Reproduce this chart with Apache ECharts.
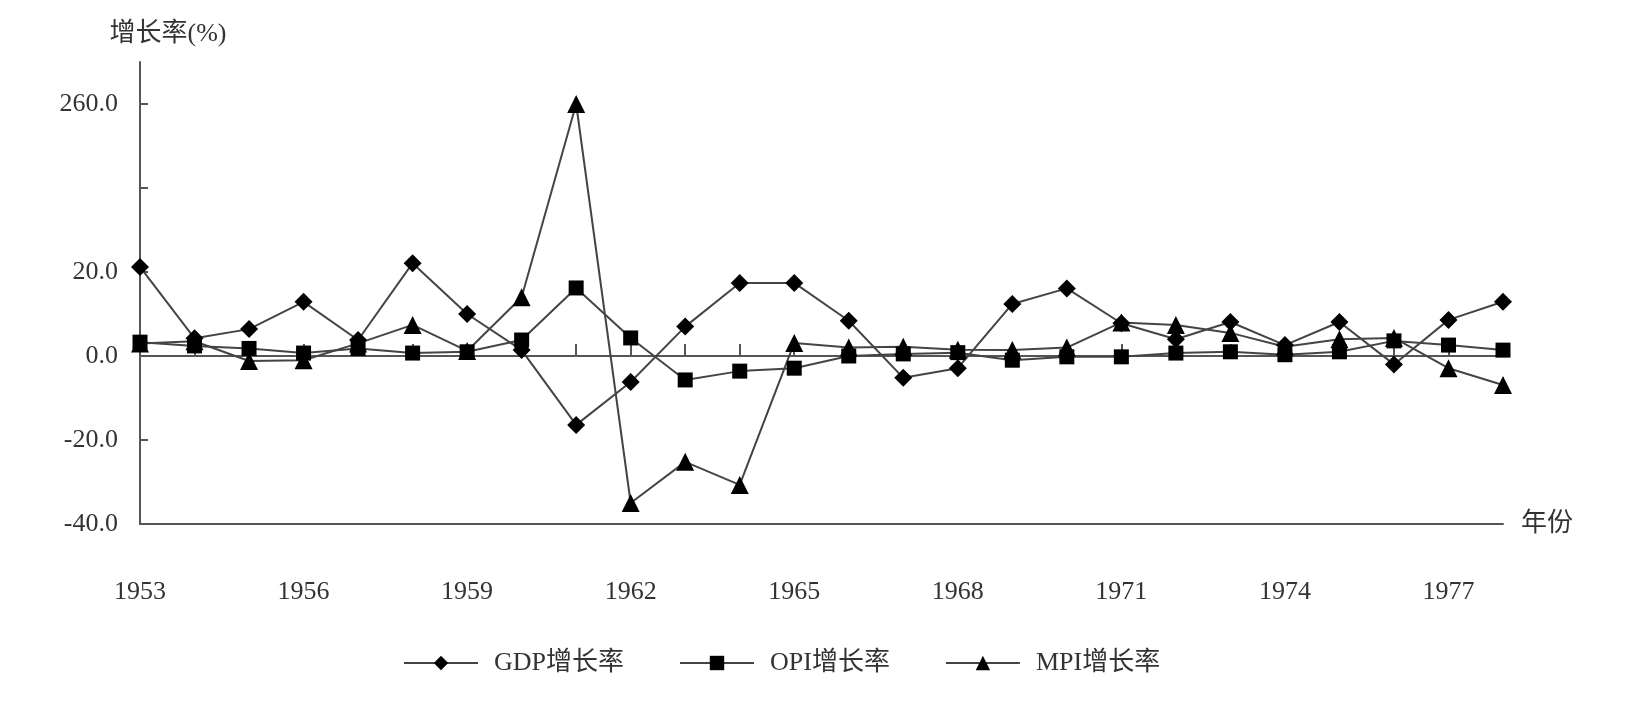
<!DOCTYPE html>
<html>
<head>
<meta charset="utf-8">
<script src="https://cdn.jsdelivr.net/npm/echarts@6/dist/echarts.min.js"></script>
<style>
html,body{margin:0;padding:0;background:#fff;}
#c{width:1647px;height:701px;}
</style>
</head>
<body>
<div id="c"></div>
<script>
var years = ['1953','1954','1955','1956','1957','1958','1959','1960','1961','1962','1963','1964','1965','1966','1967','1968','1969','1970','1971','1972','1973','1974','1975','1976','1977','1978'];
var gdpRate = [21.2, 4.2, 6.4, 12.9, 3.8, 22.1, 10.0, 1.4, -16.4, -6.2, 7.0, 17.4, 17.4, 8.4, -5.2, -2.9, 12.4, 16.1, 7.8, 4.0, 8.1, 2.6, 8.1, -2.0, 8.6, 12.9];
var opiRate = [3.3, 2.4, 1.8, 0.7, 1.8, 0.7, 1.0, 3.8, 16.2, 4.3, -5.7, -3.6, -2.9, 0.0, 0.5, 0.8, -1.0, -0.2, -0.2, 0.7, 1.0, 0.3, 1.0, 3.6, 2.6, 1.4];
var mpiRate = [3.0, 3.5, -1.2, -1.0, 3.0, 7.4, 1.2, 14.0, 260.0, -35.0, -25.2, -30.7, 3.1, 2.0, 2.2, 1.5, 1.4, 2.0, 8.0, 7.4, 5.5, 2.2, 4.0, 4.3, -2.9, -6.9];
var yTickValues = [-40, -20, 0, 20, 40, 260];
var yLabelValues = [-40, -20, 0, 20, 260];
var seriesNames = ['GDP增长率', 'OPI增长率', 'MPI增长率'];

var FONT = "'Liberation Serif', 'Noto Sans CJK SC', serif";
var TXT = '#333';
var AX = '#555';

var chart = echarts.init(document.getElementById('c'), null, {renderer: 'canvas'});

function mkSeries(name, data, symbol, size) {
  return {
    name: name,
    type: 'line',
    data: data,
    xAxisIndex: 0,
    yAxisIndex: 0,
    symbol: symbol,
    symbolSize: size,
    showAllSymbol: true,
    itemStyle: {color: '#000'},
    lineStyle: {color: '#444', width: 2},
    emphasis: {disabled: true},
    animation: false
  };
}

chart.setOption({
  animation: false,
  backgroundColor: '#fff',
  grid: {left: 140, right: 144, top: 62, bottom: 177, containLabel: false},
  legend: {
    left: 398, top: 645,
    itemWidth: 74, itemHeight: 18, itemGap: 55,
    data: seriesNames,
    textStyle: {fontFamily: FONT, fontSize: 26, lineHeight: 26, color: TXT, padding: [0, 0, 0, 11]}
  },
  xAxis: [{
    type: 'category',
    data: years,
    boundaryGap: false,
    position: 'bottom',
    axisLine: {onZero: false, lineStyle: {color: AX, width: 2}},
    axisTick: {show: false},
    axisLabel: {interval: 2, margin: 55, fontFamily: FONT, fontSize: 26, color: TXT},
    splitLine: {show: false},
    name: '年份',
    nameLocation: 'end',
    nameGap: 18,
    nameTextStyle: {fontFamily: FONT, fontSize: 26, color: TXT, padding: [16, 0, 0, 0]}
  }, {
    type: 'category',
    data: years,
    boundaryGap: false,
    position: 'top',
    axisLine: {onZero: true, onZeroAxisIndex: 0, lineStyle: {color: AX, width: 2}},
    axisTick: {show: true, inside: false, length: 12, interval: 0, lineStyle: {color: AX, width: 2}},
    axisLabel: {show: false},
    splitLine: {show: false}
  }],
  yAxis: [{
    type: 'value',
    min: -40,
    max: 270,
    interval: 20,
    breaks: [{start: 40, end: 240, gap: 0}],
    breakArea: {show: false},
    axisLine: {show: true, lineStyle: {color: AX, width: 2}},
    axisTick: {show: true, inside: true, length: 8, customValues: yTickValues, lineStyle: {color: AX, width: 2}},
    axisLabel: {
      customValues: yLabelValues,
      margin: 22,
      fontFamily: FONT, fontSize: 26, color: TXT,
      formatter: function (v) { return Number(v).toFixed(1); }
    },
    splitLine: {show: false},
    name: '增长率(%)',
    nameLocation: 'end',
    nameGap: 15,
    nameTextStyle: {fontFamily: FONT, fontSize: 26, color: TXT, padding: [0, 0, 0, 56]}
  }],
  series: [
    mkSeries(seriesNames[0], gdpRate, 'diamond', 18),
    mkSeries(seriesNames[1], opiRate, 'rect', 15),
    mkSeries(seriesNames[2], mpiRate, 'triangle', 18)
  ]
});
</script>
</body>
</html>
